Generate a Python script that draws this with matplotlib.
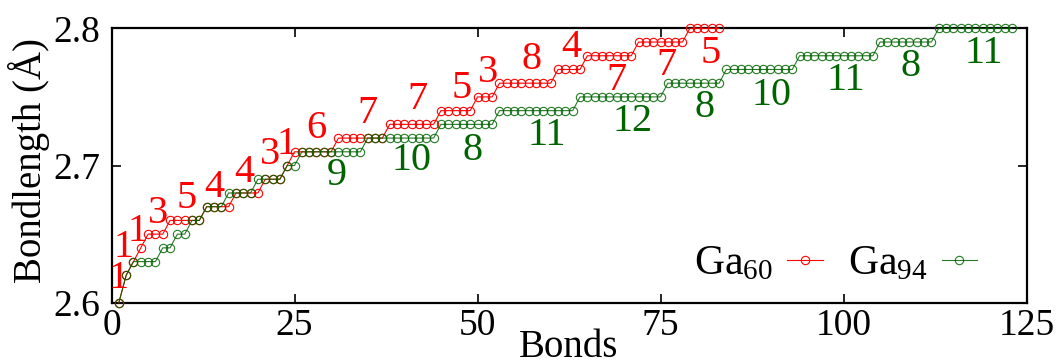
import numpy as np
import matplotlib
matplotlib.use("Agg")
import matplotlib.pyplot as plt

plt.rcParams['font.family'] = ['Liberation Serif', 'DejaVu Serif']
plt.rcParams['mathtext.default'] = 'regular'

# sorted bond lengths, grouped by level (Angstrom) and number of bonds at that level
ga60_levels = [2.60, 2.62, 2.63, 2.64, 2.65, 2.66, 2.67, 2.68, 2.69, 2.70,
               2.71, 2.72, 2.73, 2.74, 2.75, 2.76, 2.77, 2.78, 2.79, 2.80]
ga60_counts = [1, 1, 1, 1, 3, 5, 4, 4, 3, 1,
               6, 7, 7, 5, 3, 8, 4, 7, 7, 5]

ga94_levels = [2.60, 2.62, 2.63, 2.64, 2.65, 2.66, 2.67, 2.68, 2.69, 2.70,
               2.71, 2.72, 2.73, 2.74, 2.75, 2.76, 2.77, 2.78, 2.79, 2.80]
ga94_counts = [1, 1, 4, 2, 2, 2, 3, 4, 4, 2,
               9, 10, 8, 11, 12, 8, 10, 11, 8, 11]

# count annotations: (level index, x, y) in data coordinates
ga60_notes = [(0, 0.9, 2.618), (1, 1.7, 2.640), (3, 3.6, 2.652), (4, 6.3, 2.665),
              (5, 10.3, 2.676), (6, 14.1, 2.684), (7, 18.2, 2.695), (8, 21.6, 2.708),
              (9, 23.9, 2.715), (10, 28.0, 2.727), (11, 35.0, 2.738), (12, 41.8, 2.748),
              (13, 47.8, 2.756), (14, 51.4, 2.768), (15, 57.4, 2.777), (16, 62.8, 2.786),
              (17, 69.0, 2.762), (18, 75.8, 2.773), (19, 81.9, 2.782)]
ga94_notes = [(10, 30.8, 2.693), (11, 41.0, 2.704), (12, 49.3, 2.711), (13, 59.4, 2.722),
              (14, 71.2, 2.732), (15, 81.0, 2.742), (16, 90.1, 2.751), (17, 100.3, 2.762),
              (18, 109.2, 2.772), (19, 119.2, 2.782)]

red = '#ff0000'
green = '#006400'


def expand(levels, counts):
    y = np.repeat(levels, counts)
    x = np.arange(1, len(y) + 1)
    return x, y


fig = plt.figure(figsize=(10.64, 3.63), dpi=100)
ax = fig.add_axes([0.1048, 0.166, 0.860, 0.756])

x60, y60 = expand(ga60_levels, ga60_counts)
x94, y94 = expand(ga94_levels, ga94_counts)

ax.plot(x60, y60, '-o', color=red, mfc='none', ms=6, mew=0.8, lw=0.8,
        clip_on=False, label='Ga$_{60}$', zorder=3)
ax.plot(x94, y94, '-o', color=green, mfc='none', ms=6, mew=0.8, lw=0.8,
        clip_on=False, label='Ga$_{94}$', alpha=0.85, zorder=4)

for i, tx, ty in ga60_notes:
    ax.text(tx, ty, str(ga60_counts[i]), color=red, fontsize=29,
            ha='center', va='center', zorder=5)
for i, tx, ty in ga94_notes:
    ax.text(tx, ty, str(ga94_counts[i]), color=green, fontsize=29,
            ha='center', va='center', zorder=5)

ax.set_xlim(0, 125)
ax.set_ylim(2.6, 2.8)
ax.set_xticks([0, 25, 50, 75, 100, 125])
ax.set_yticks([2.6, 2.7, 2.8])
ax.set_yticklabels(['2.6', '2.7', '2.8'])
ax.tick_params(direction='in', length=6.5, width=1.2, labelsize=27,
               top=True, right=True)
ax.tick_params(axis='y', pad=8)
ax.tick_params(axis='x', pad=4)
for s in ax.spines.values():
    s.set_linewidth(1.6)

ax.set_xlabel('Bonds', fontsize=28)
ax.xaxis.set_label_coords(0.5, -0.095)
ax.set_ylabel('Bondlength (Å)', fontsize=28)
ax.yaxis.set_label_coords(-0.067, 0.52)

ax.legend(loc='center right', bbox_to_anchor=(0.946, 0.14), ncol=2,
          markerfirst=False, frameon=False, fontsize=30, handlelength=0.85,
          handletextpad=0.35, columnspacing=0.6, borderpad=0, borderaxespad=0)

fig.savefig('out.png', dpi=100)
